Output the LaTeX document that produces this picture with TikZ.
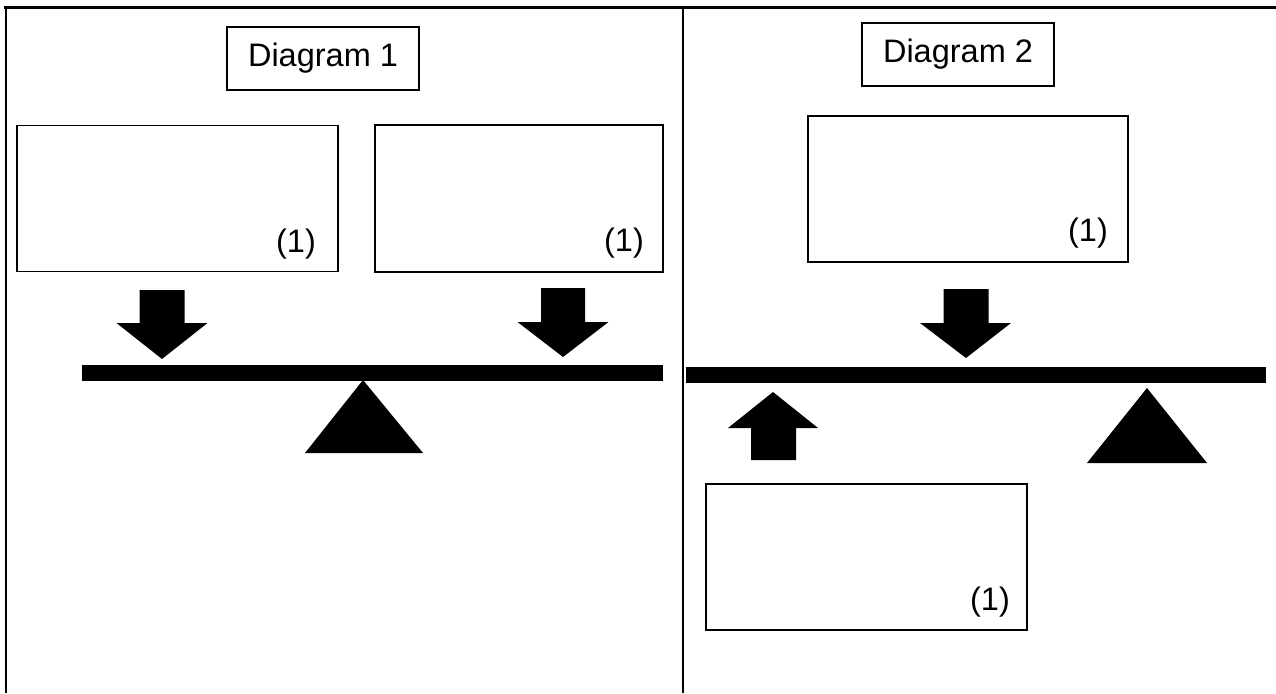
\documentclass[tikz,border=0pt]{standalone}
\usepackage{fontspec}
\setmainfont{Liberation Sans}
\usetikzlibrary{positioning}
\tikzset{
  framerule/.style={line width=2.6pt},
  titlebox/.style={draw, line width=1.4pt, inner sep=0pt, minimum width=192pt, minimum height=63pt},
  answerbox/.style={draw, line width=1.4pt, inner sep=0pt, minimum height=146pt},
  marktext/.style={inner sep=0pt},
  solid black/.style={fill=black, draw=none}
}
\begin{document}
\begin{tikzpicture}[x=1pt,y=1pt,yscale=-1,xscale=1,font=\fontsize{32.5}{39}\selectfont]
        \useasboundingbox (0,0) rectangle (1276,693);
        %Straight Lines: table frame
        \draw [framerule]   (4,7.5) -- (1276,7.5) ;
        \draw [framerule]   (6,6.5) -- (6,693) ;
        \draw [framerule]   (682.8,7.5) -- (682.8,693) ;
        % Text Node: titles
        \node [titlebox] (title1) at (323,58.5) {Diagram 1};
        \node [titlebox] (title2) at (958,54.5) {Diagram 2};
        %Shape: Rectangle, diagram 1
        \node [answerbox, minimum width=321pt] (leftload) at (177.5,198.5) {};
        \node [answerbox, minimum width=288pt, minimum height=147pt] (rightload) at (519,198.5) {};
        %Shape: Rectangle, diagram 2
        \node [answerbox, minimum width=320pt] (midload) at (968,189) {};
        \node [answerbox, minimum width=321pt] (support) at (866.5,557) {};
        % Text Node: marks
        \node [marktext] (markA) at (296,244) {(1)};
        \node [marktext] (markB) at (624,243) {(1)};
        \node [marktext] (markC) at (1088,233) {(1)};
        \node [marktext] (markD) at (990,602) {(1)};
        %Shape: Arrow, diagram 1 left
        \fill [solid black] (139.5,290) -- (184.5,290) -- (184.5,323) -- (207.5,323) -- (162,359) -- (116.5,323) -- (139.5,323) -- cycle ;
        %Shape: Arrow, diagram 1 right
        \fill [solid black] (541,288) -- (585,288) -- (585,322) -- (608.5,322) -- (563,357) -- (517.5,322) -- (541,322) -- cycle ;
        %Shape: Rectangle, beam 1
        \fill [solid black] (82,365) rectangle (663,381) ;
        %Shape: Triangle, pivot 1
        \fill [solid black] (363,380) -- (423,453) -- (305,453) -- cycle ;
        %Shape: Arrow, diagram 2 down
        \fill [solid black] (943.5,289) -- (988.5,289) -- (988.5,323) -- (1011,323) -- (966,358) -- (920,323) -- (943.5,323) -- cycle ;
        %Shape: Rectangle, beam 2
        \fill [solid black] (686,367) rectangle (1266,383) ;
        %Shape: Triangle, pivot 2
        \fill [solid black] (1147,388) -- (1207,463) -- (1087,463) -- cycle ;
        %Shape: Arrow, diagram 2 up
        \fill [solid black] (773,392) -- (818,428) -- (796,428) -- (796,460) -- (751,460) -- (751,428) -- (728,428) -- cycle ;
\end{tikzpicture}
\end{document}
